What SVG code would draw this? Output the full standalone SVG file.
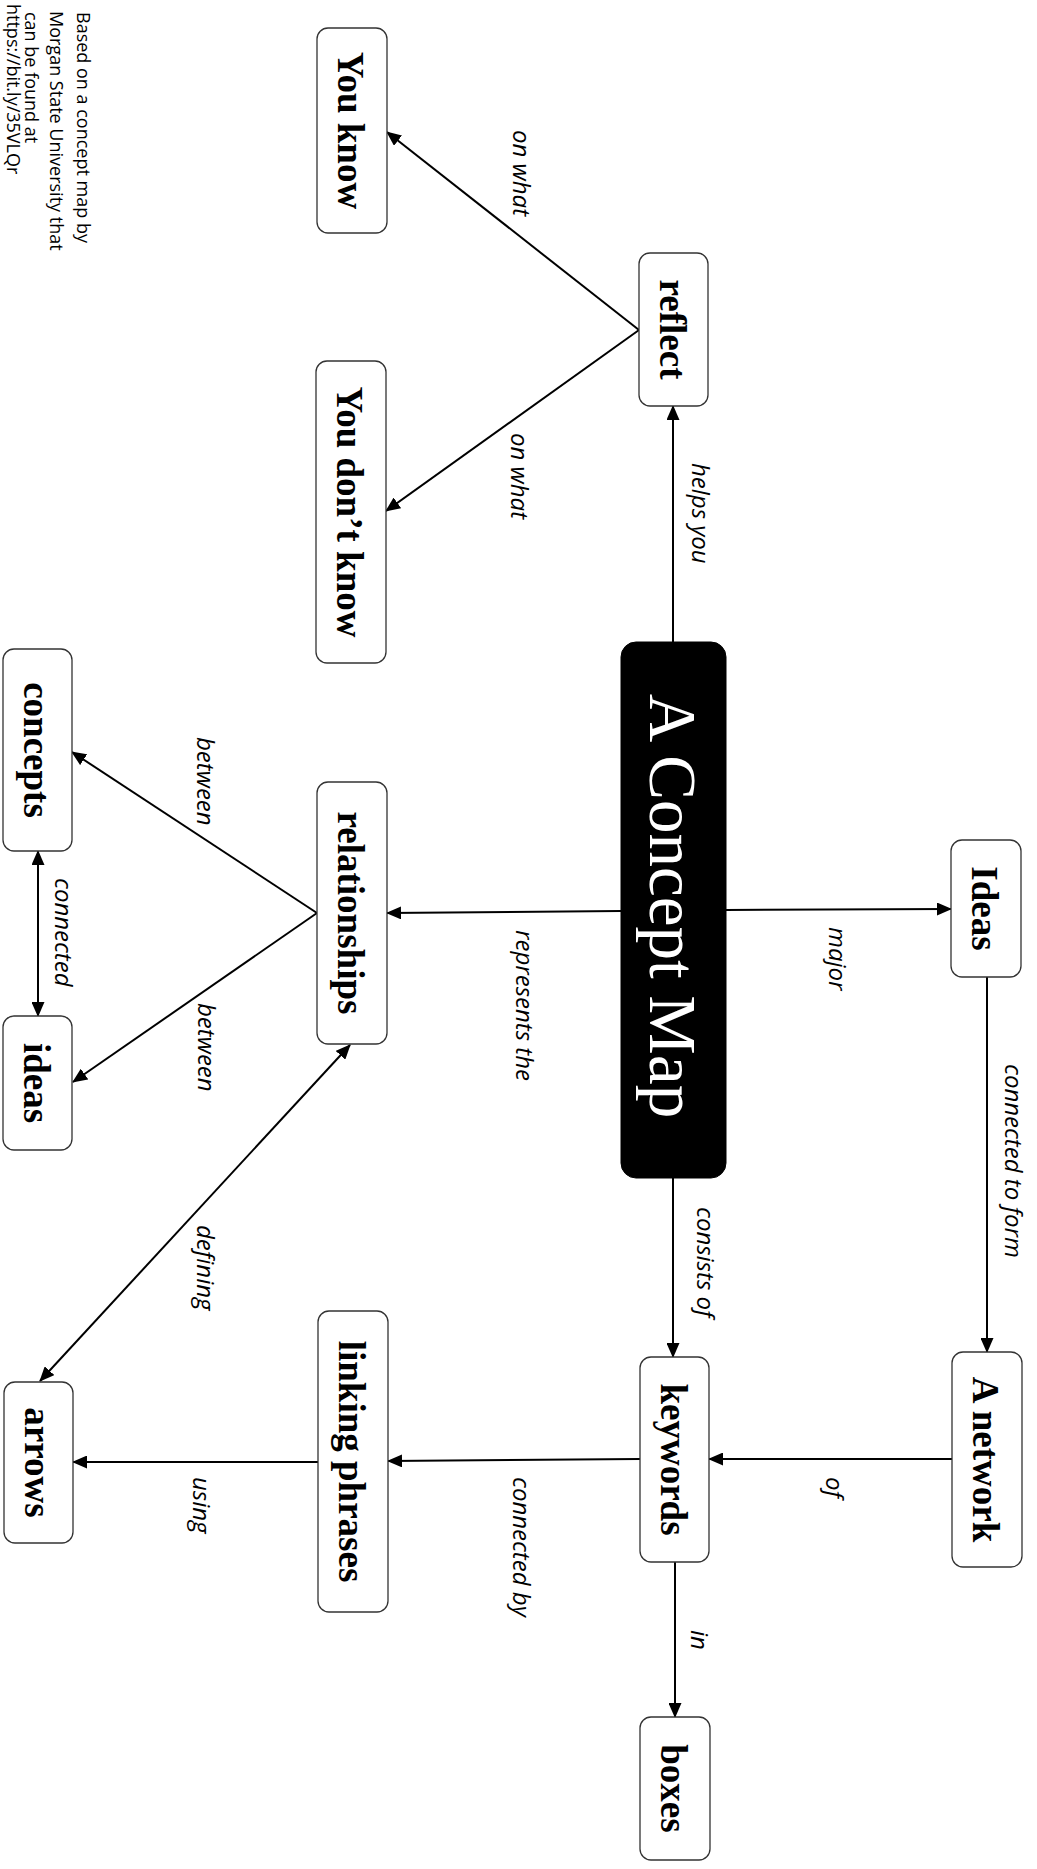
<svg xmlns="http://www.w3.org/2000/svg" width="1037" height="1869" viewBox="0 0 1037 1869">
<style>
.box{fill:#fff;stroke:#333;stroke-width:1.3}
.main{fill:#000;stroke:#000;stroke-width:1}
.nt{font-family:"Liberation Serif","Times New Roman",serif;font-weight:bold;font-size:37px;fill:#000;text-anchor:middle}
.mt{font-family:"Liberation Serif","Times New Roman",serif;font-size:67px;fill:#fff;text-anchor:middle}
.lbl{font-family:"Open Sans","Noto Sans",sans-serif;font-style:italic;font-size:24px;fill:#000}
.note{font-family:"Open Sans","Noto Sans",sans-serif;font-size:18px;fill:#000}
.edge{fill:none;stroke:#000;stroke-width:2}
</style>
<defs>
<marker id="ah" viewBox="0 0 15 13" refX="14" refY="6.5" markerWidth="15" markerHeight="13" markerUnits="userSpaceOnUse" orient="auto-start-reverse">
<path d="M0,0 L15,6.5 L0,13 z" fill="#000"/>
</marker>
</defs>
<rect width="1037" height="1869" fill="#fff"/>

<g id="note">
<text class="note" transform="translate(77,12) rotate(90)">Based on a concept map by</text>
<text class="note" transform="translate(50,11) rotate(90)">Morgan State University that</text>
<text class="note" transform="translate(25,12) rotate(90)">can be found at</text>
<text class="note" transform="translate(7,4) rotate(90)">https://bit.ly/35VLQr</text>
</g>

<g id="connectors">
<line class="edge" x1="673" y1="642" x2="673" y2="406" marker-end="url(#ah)"/>
<line class="edge" x1="639" y1="330" x2="387" y2="132" marker-end="url(#ah)"/>
<line class="edge" x1="639" y1="330" x2="386" y2="511" marker-end="url(#ah)"/>
<line class="edge" x1="621" y1="911" x2="387" y2="913" marker-end="url(#ah)"/>
<line class="edge" x1="726" y1="910" x2="951" y2="909" marker-end="url(#ah)"/>
<line class="edge" x1="987" y1="977" x2="987" y2="1352" marker-end="url(#ah)"/>
<line class="edge" x1="952" y1="1459" x2="709" y2="1459" marker-end="url(#ah)"/>
<line class="edge" x1="673" y1="1178" x2="673" y2="1357" marker-end="url(#ah)"/>
<line class="edge" x1="640" y1="1459" x2="388" y2="1461" marker-end="url(#ah)"/>
<line class="edge" x1="675" y1="1562" x2="675" y2="1717" marker-end="url(#ah)"/>
<line class="edge" x1="318" y1="1462" x2="73" y2="1462" marker-end="url(#ah)"/>
<line class="edge" x1="317" y1="913" x2="72" y2="752" marker-end="url(#ah)"/>
<line class="edge" x1="317" y1="913" x2="73" y2="1082" marker-end="url(#ah)"/>
<line class="edge" x1="38" y1="851" x2="38" y2="1016" marker-start="url(#ah)" marker-end="url(#ah)"/>
<line class="edge" x1="350" y1="1045" x2="40" y2="1381" marker-start="url(#ah)" marker-end="url(#ah)"/>
</g>

<g id="labels">
<text class="lbl" transform="translate(513,130) rotate(90)">on what</text>
<text class="lbl" transform="translate(511,433) rotate(90)">on what</text>
<text class="lbl" transform="translate(692,463) rotate(90)">helps you</text>
<text class="lbl" transform="translate(829,927) rotate(90)">major</text>
<text class="lbl" transform="translate(1005,1064) rotate(90)">connected to form</text>
<text class="lbl" transform="translate(516,930) rotate(90)">represents the</text>
<text class="lbl" transform="translate(197,737) rotate(90)">between</text>
<text class="lbl" transform="translate(198,1003) rotate(90)">between</text>
<text class="lbl" transform="translate(55,878) rotate(90)">connected</text>
<text class="lbl" transform="translate(197,1225) rotate(90)">defining</text>
<text class="lbl" transform="translate(193,1477) rotate(90)">using</text>
<text class="lbl" transform="translate(697,1207) rotate(90)">consists of</text>
<text class="lbl" transform="translate(826,1477) rotate(90)">of</text>
<text class="lbl" transform="translate(513,1477) rotate(90)">connected by</text>
<text class="lbl" transform="translate(691,1630) rotate(90)">in</text>
</g>

<g id="n-youknow"><rect class="box" x="317" y="28" width="70" height="205" rx="11"/><text class="nt" transform="translate(352,130.5) rotate(90)" y="14">You know</text></g>
<g id="n-youdontknow"><rect class="box" x="316" y="361" width="70" height="302" rx="11"/><text class="nt" transform="translate(351,512) rotate(90)" y="14">You don’t know</text></g>
<g id="n-reflect"><rect class="box" x="639" y="253" width="69" height="153" rx="11"/><text class="nt" transform="translate(673.5,329.5) rotate(90)" y="14">reflect</text></g>
<g id="n-main"><rect class="main" x="621" y="642" width="105" height="536" rx="15"/><text class="mt" transform="translate(673.5,906) rotate(90)" y="24">A Concept Map</text></g>
<g id="n-ideas-major"><rect class="box" x="951" y="840" width="70" height="137" rx="11"/><text class="nt" transform="translate(986,908.5) rotate(90)" y="14">Ideas</text></g>
<g id="n-network"><rect class="box" x="952" y="1352" width="70" height="215" rx="11"/><text class="nt" transform="translate(987,1459.5) rotate(90)" y="14">A network</text></g>
<g id="n-keywords"><rect class="box" x="640" y="1357" width="69" height="205" rx="11"/><text class="nt" transform="translate(674.5,1459.5) rotate(90)" y="14">keywords</text></g>
<g id="n-boxes"><rect class="box" x="640" y="1717" width="70" height="143" rx="11"/><text class="nt" transform="translate(675,1788.5) rotate(90)" y="14">boxes</text></g>
<g id="n-linking"><rect class="box" x="318" y="1311" width="70" height="301" rx="11"/><text class="nt" transform="translate(353,1461.5) rotate(90)" y="14">linking phrases</text></g>
<g id="n-arrows"><rect class="box" x="4" y="1382" width="69" height="161" rx="11"/><text class="nt" transform="translate(38.5,1462.5) rotate(90)" y="14">arrows</text></g>
<g id="n-relationships"><rect class="box" x="317" y="782" width="70" height="262" rx="11"/><text class="nt" transform="translate(352,913) rotate(90)" y="14">relationships</text></g>
<g id="n-concepts"><rect class="box" x="3" y="649" width="69" height="202" rx="11"/><text class="nt" transform="translate(37.5,750) rotate(90)" y="14">concepts</text></g>
<g id="n-ideas"><rect class="box" x="3" y="1016" width="69" height="134" rx="11"/><text class="nt" transform="translate(37.5,1083) rotate(90)" y="14">ideas</text></g>
</svg>
